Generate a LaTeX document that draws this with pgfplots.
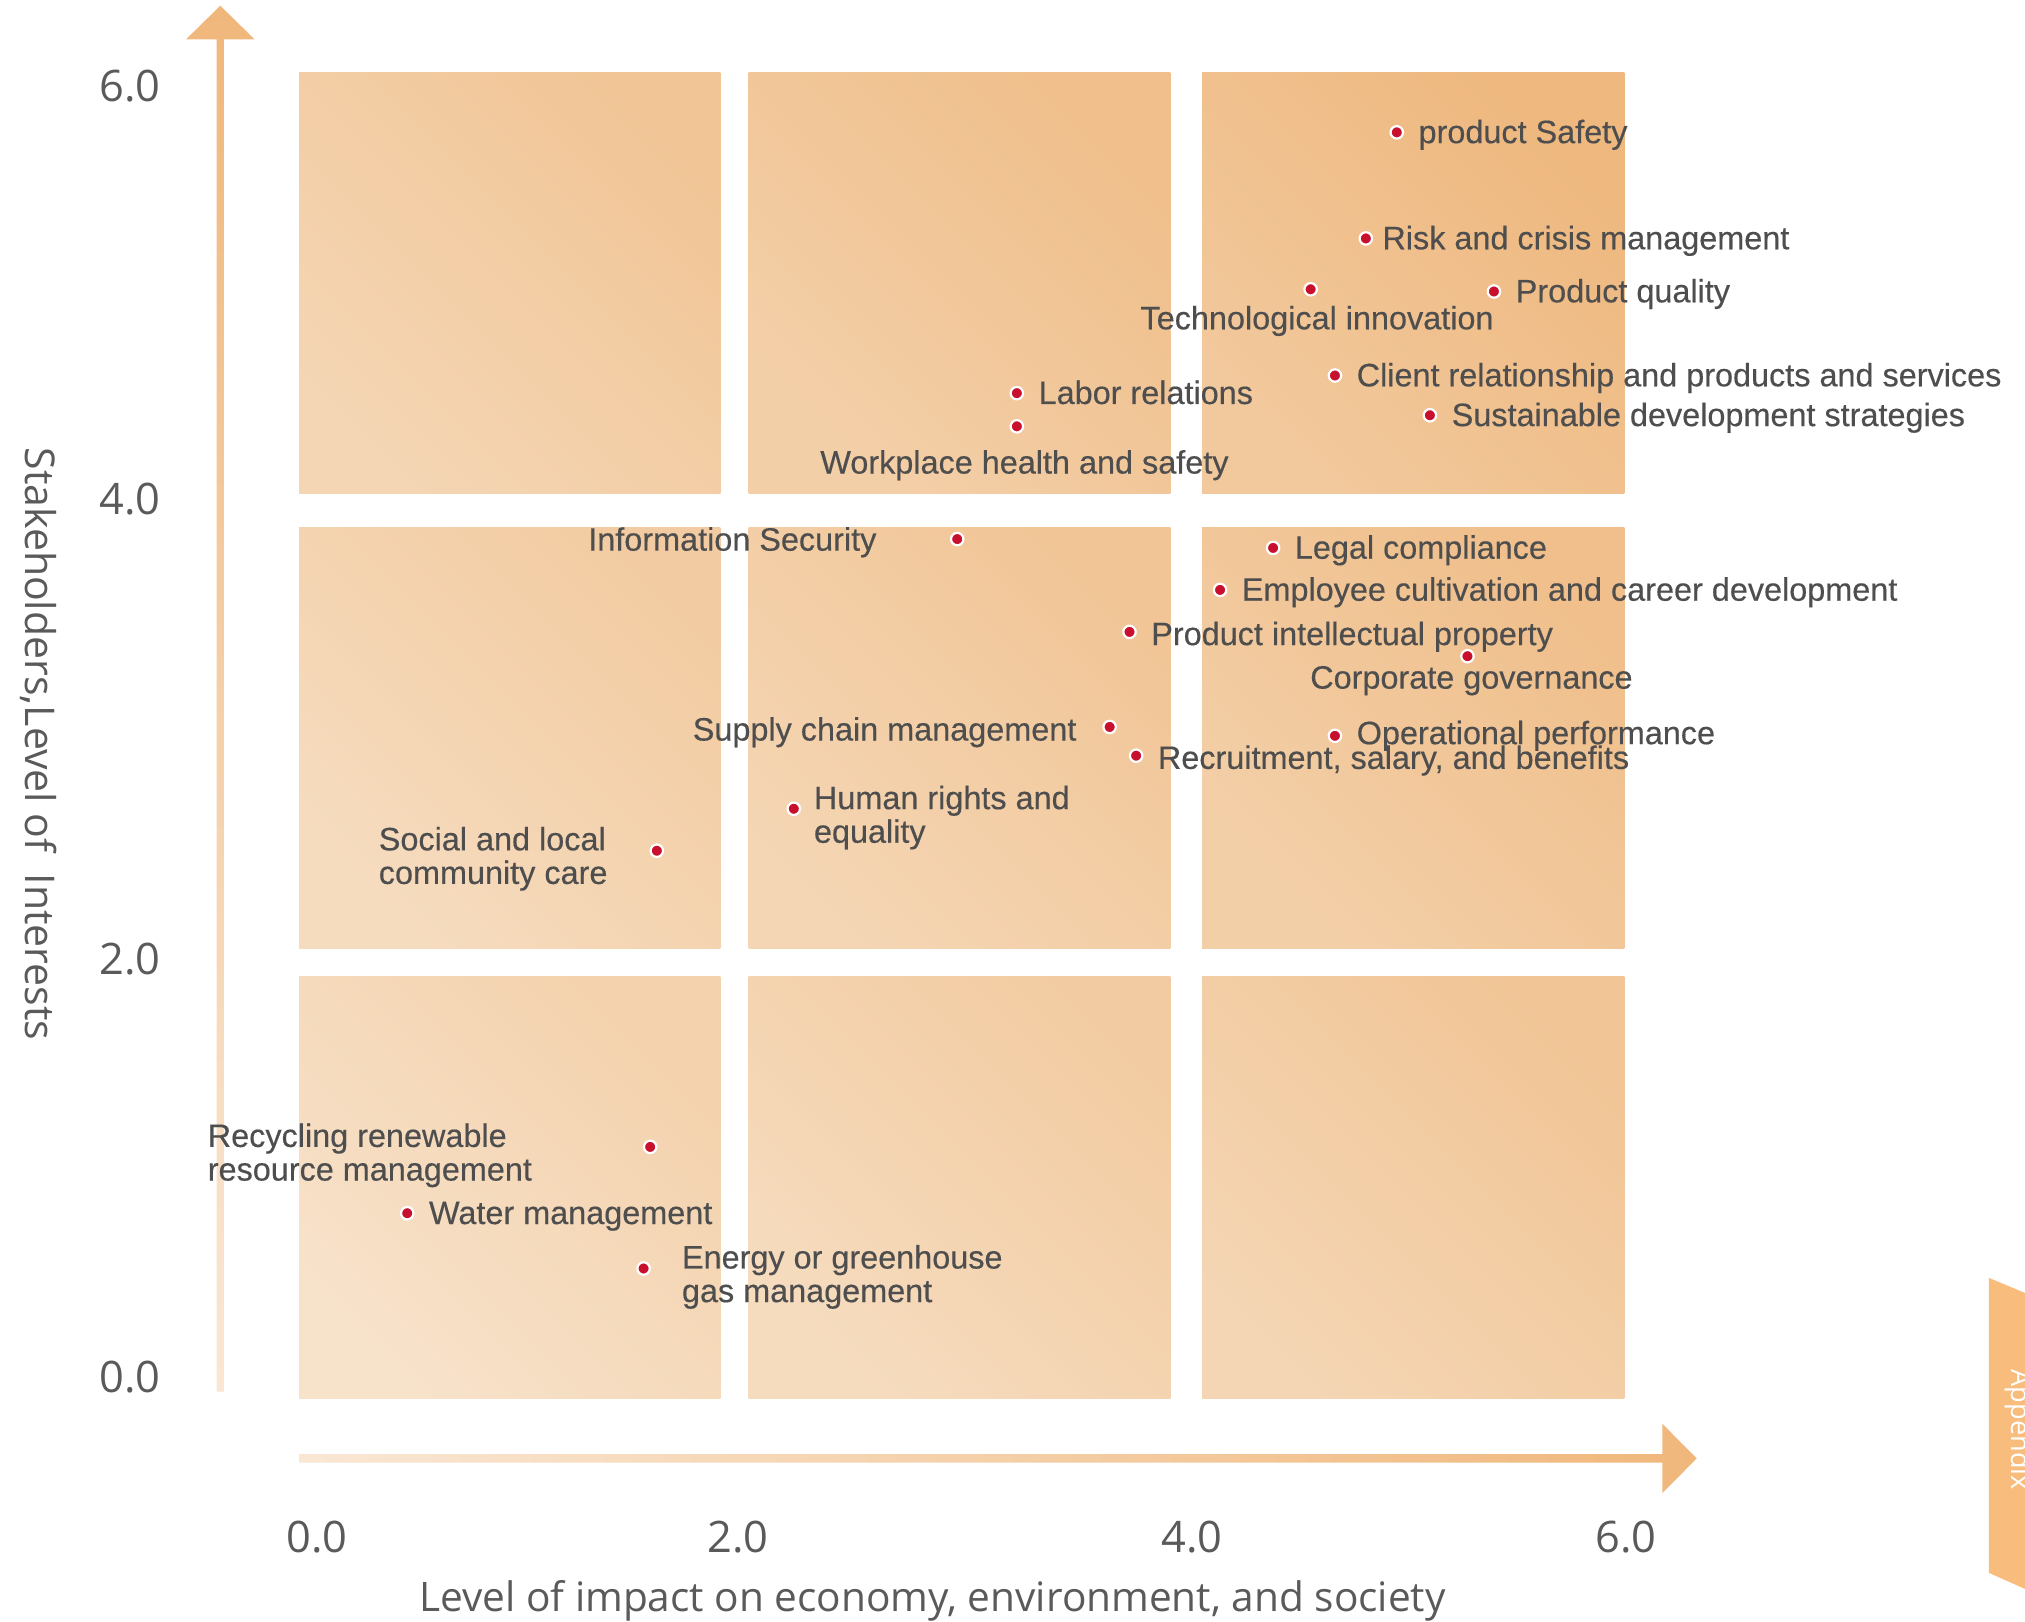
\documentclass[border=0pt]{standalone}
\usepackage{pgfplots}
\pgfplotsset{compat=1.18}
\usepackage{fontspec}
\setmainfont{Liberation Sans}
\newfontfamily\osans{Open Sans}
\newfontfamily\lblfam{Liberation Sans}[FakeBold=0.35]
\definecolor{L}{RGB}{247,226,202}
\definecolor{D}{RGB}{237,178,116}
\definecolor{dotred}{RGB}{200,16,46}
\definecolor{lblgray}{RGB}{78,78,78}
\definecolor{axgray}{RGB}{90,90,90}
\definecolor{arrlight}{RGB}{249,231,212}
\definecolor{arrdark}{RGB}{240,183,123}
\definecolor{tabc}{RGB}{248,188,125}
% #5 = lower-left tone, #6 = upper-right tone
\newcommand{\cell}[6]{\shade[left color=D!#6!L, right color=D!#5!L, shading angle=-45] (axis cs:#1,#2) rectangle (axis cs:#3,#4);}
\newcommand{\lblfont}{\lblfam\fontsize{8.1}{8.4}\selectfont}
\tikzset{
  lbl/.style={font=\lblfont, text=lblgray, inner sep=0pt},
  R/.style={lbl, anchor=base west, xshift=5.25pt, yshift=-2.7pt},
}
\begin{document}
\begin{tikzpicture}
\begin{axis}[
  x=55.22pt, y=55.26pt,
  xmin=0, xmax=6.02, ymin=0, ymax=6,
  axis line style={draw=none},
  major tick length=0pt,
  clip=false,
  xtick={0.0815,1.987,4.043,6.008},
  xticklabels={0.0,2.0,4.0,6.0},
  ytick={0.0995,1.992,4.069,5.940},
  yticklabels={0.0,2.0,4.0,6.0},
  xticklabel style={anchor=center, yshift=-34.6pt, font=\osans\fontsize{10.85}{12}\selectfont, text=axgray},
  yticklabel style={anchor=center, xshift=-42.25pt, font=\osans\fontsize{10.85}{12}\selectfont, text=axgray},
]
% picture frame (invisible)
\path (axis cs:-1.3537,-1.0088) rectangle (axis cs:7.8142,6.3289);
% cells
\cell{0}{0}{1.9074}{1.9104}{0}{34}
\cell{2.0359}{0}{3.9447}{1.9104}{13}{47}
\cell{4.0882}{0}{6}{1.9104}{26}{60}
\cell{0}{2.0357}{1.9074}{3.9430}{13}{47}
\cell{2.0359}{2.0357}{3.9447}{3.9430}{26}{60}
\cell{4.0882}{2.0357}{6}{3.9430}{39}{73}
\cell{0}{4.0955}{1.9074}{6}{26}{60}
\cell{2.0359}{4.0955}{3.9447}{6}{39}{73}
\cell{4.0882}{4.0955}{6}{6}{52}{88}
% arrows
\shade[bottom color=arrlight, top color=arrdark]
  (axis cs:-0.3728,0.033) -- (axis cs:-0.3398,0.033) -- (axis cs:-0.3398,6.1506)
  -- (axis cs:-0.2010,6.1506) -- (axis cs:-0.3563,6.3031) -- (axis cs:-0.5116,6.1506)
  -- (axis cs:-0.3728,6.1506) -- cycle;
\shade[left color=arrlight, right color=arrdark]
  (axis cs:0,-0.2882) -- (axis cs:6.172,-0.2882) -- (axis cs:6.172,-0.4262)
  -- (axis cs:6.328,-0.2692) -- (axis cs:6.172,-0.1122) -- (axis cs:6.172,-0.2502)
  -- (axis cs:0,-0.2502) -- cycle;
% appendix tab
\fill[tabc] (axis cs:7.651,0.5474) -- (axis cs:7.8142,0.4795) -- (axis cs:7.8142,-0.8595) -- (axis cs:7.651,-0.7871) -- cycle;
\node[overlay, rotate=-90, text=white, inner sep=0pt, font=\osans\fontsize{6.8}{8}\selectfont] at (axis cs:7.783,-0.140) {Appendix};
% axis titles
\node[inner sep=0pt, anchor=base, text=axgray, font=\osans\fontsize{10.15}{12}\selectfont] at (axis cs:2.868,-0.9636) {Level of impact on economy, environment, and society};
\node[inner sep=0pt, rotate=-90, text=axgray, font=\osans\fontsize{10.25}{12}\selectfont] at (axis cs:-1.177,2.963) {Stakeholders,Level of\ \ Interests};
% data points
\addplot[only marks, mark=*, mark size=1.55pt, mark options={fill=dotred, draw=white, line width=0.55pt}] table {
x y
4.97 5.73
4.83 5.25
4.58 5.02
5.41 5.01
4.69 4.63
5.12 4.45
3.25 4.55
3.25 4.40
2.98 3.89
4.41 3.85
4.17 3.66
3.76 3.47
5.29 3.36
3.67 3.04
4.69 3.00
3.79 2.91
2.24 2.67
1.62 2.48
1.59 1.14
0.49 0.84
1.56 0.59
};
% labels
\node[R] at (axis cs:4.97,5.73) {product Safety};
\node[R, xshift=-1.3pt] at (axis cs:4.83,5.25) {Risk and crisis management};
\node[lbl, anchor=base, xshift=1.6pt, yshift=-10pt] at (axis cs:4.58,5.02) {Technological innovation};
\node[R] at (axis cs:5.41,5.01) {Product quality};
\node[R] at (axis cs:4.69,4.63) {Client relationship and products and services};
\node[R] at (axis cs:5.12,4.45) {Sustainable development strategies};
\node[R] at (axis cs:3.25,4.55) {Labor relations};
\node[lbl, anchor=base, xshift=1.9pt, yshift=-11.8pt] at (axis cs:3.25,4.40) {Workplace health and safety};
\node[lbl, anchor=base east, xshift=-20pt, yshift=-2.9pt] at (axis cs:2.98,3.89) {Information Security};
\node[R] at (axis cs:4.41,3.85) {Legal compliance};
\node[R] at (axis cs:4.17,3.66) {Employee cultivation and career development};
\node[R, yshift=-0.6pt] at (axis cs:3.76,3.47) {Product intellectual property};
\node[lbl, anchor=base, xshift=1pt, yshift=-8.1pt] at (axis cs:5.29,3.36) {Corporate governance};
\node[lbl, anchor=base east, xshift=-8.1pt, yshift=-3.4pt] at (axis cs:3.67,3.04) {Supply chain management};
\node[R, yshift=0.6pt] at (axis cs:4.69,3.00) {Operational performance};
\node[R, yshift=-0.6pt] at (axis cs:3.79,2.91) {Recruitment, salary, and benefits};
\node[lbl, anchor=base west, xshift=4.85pt, yshift=-0.1pt] at (axis cs:2.24,2.67) {\begin{tabular}[t]{@{}l@{}}Human rights and\\equality\end{tabular}};
\node[lbl, anchor=base west, xshift=-69.7pt, yshift=0.1pt] at (axis cs:1.62,2.48) {\begin{tabular}[t]{@{}l@{}}Social and local\\community care\end{tabular}};
\node[lbl, anchor=base west, xshift=-110.8pt] at (axis cs:1.59,1.14) {\begin{tabular}[t]{@{}l@{}}Recycling renewable\\resource management\end{tabular}};
\node[R] at (axis cs:0.49,0.84) {Water management};
\node[lbl, anchor=base west, xshift=9.4pt] at (axis cs:1.56,0.59) {\begin{tabular}[t]{@{}l@{}}Energy or greenhouse\\gas management\end{tabular}};
\end{axis}
\end{tikzpicture}
\end{document}
